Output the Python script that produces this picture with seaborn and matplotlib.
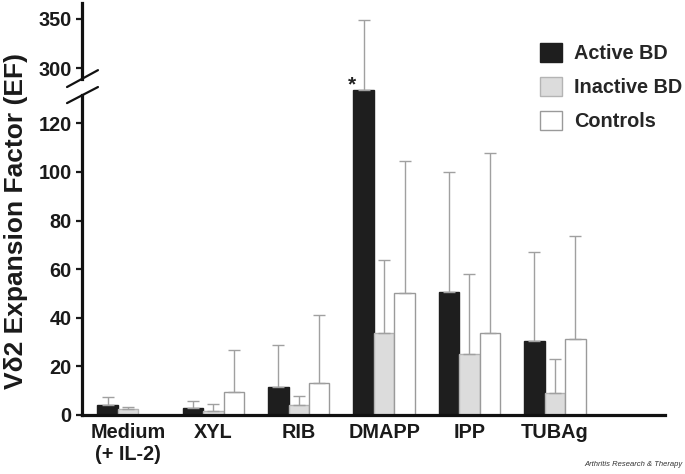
import matplotlib
matplotlib.use("Agg")
import matplotlib.pyplot as plt
import numpy as np
import pandas as pd
import seaborn as sns


CATEGORIES = ["Medium\n(+ IL-2)", "XYL", "RIB", "DMAPP", "IPP", "TUBAg"]
GROUPS = ["Active BD", "Inactive BD", "Controls"]

ACTIVE_MEAN = [4.1, 2.8, 11.4, 278.0, 50.7, 30.5]
ACTIVE_SD = [3.1, 3.0, 17.4, 71.0, 49.2, 36.7]
INACTIVE_MEAN = [2.5, 1.8, 4.1, 33.9, 25.1, 8.9]
INACTIVE_SD = [0.9, 2.9, 3.8, 29.9, 32.9, 14.3]
CONTROL_MEAN = [np.nan, 9.3, 13.0, 50.1, 33.9, 31.2]
CONTROL_SD = [np.nan, 17.4, 28.2, 54.4, 73.8, 42.6]

Y_TICKS = [0, 20, 40, 60, 80, 100, 120, 300, 350]

FILL = {"Active BD": "#1e1e1e", "Inactive BD": "#dcdcdc", "Controls": "#ffffff"}
EDGE = {"Active BD": "#1e1e1e", "Inactive BD": "#b4b4b4", "Controls": "#9a9a9a"}
ERR = "#a0a0a0"
FONT = "Liberation Sans"

# broken y axis: linear up to LO, squeezed gap, compressed upper part
LO, HI = 130.0, 270.0
T300, K = 142.7, 0.406
T_HI = T300 + (HI - 300) * K


def fwd(v):
    v = np.asarray(v, dtype=float)
    return np.where(v <= LO, v,
                    np.where(v < HI, LO + (v - LO) * (T_HI - LO) / (HI - LO),
                             T300 + (v - 300) * K))


def inv(t):
    t = np.asarray(t, dtype=float)
    return np.where(t <= LO, t,
                    np.where(t < T_HI, LO + (t - LO) * (HI - LO) / (T_HI - LO),
                             300 + (t - T300) / K))


def build_frame() -> pd.DataFrame:
    parts = []
    for group, mean, sd in [
        ("Active BD", ACTIVE_MEAN, ACTIVE_SD),
        ("Inactive BD", INACTIVE_MEAN, INACTIVE_SD),
        ("Controls", CONTROL_MEAN, CONTROL_SD),
    ]:
        parts.append(pd.DataFrame({"stim": CATEGORIES, "group": group, "ef": mean, "sd": sd}))
    return pd.concat(parts, ignore_index=True).dropna()


def main() -> None:
    sns.set_theme(style="ticks")
    plt.rcParams["font.family"] = [FONT, "DejaVu Sans"]
    plt.rcParams["font.weight"] = "bold"

    df = build_frame()

    fig = plt.figure(figsize=(6.85, 4.74), dpi=100)
    ax = fig.add_axes([0.1197, 0.1245, 0.8511, 0.8692])
    ax.set_yscale("function", functions=(fwd, inv))

    sns.barplot(
        data=df, x="stim", y="ef", hue="group",
        order=CATEGORIES, hue_order=GROUPS, palette=FILL,
        width=0.72, errorbar=None, legend=False, ax=ax,
    )

    for group, container in zip(GROUPS, ax.containers):
        sub = df[df["group"] == group]
        xs, ys = [], []
        for patch in container.patches:
            patch.set_edgecolor(EDGE[group])
            patch.set_linewidth(1.0)
            xs.append(patch.get_x() + patch.get_width() / 2)
            ys.append(patch.get_height())
        sd = sub["sd"].to_numpy()
        ax.errorbar(xs, ys, yerr=[np.zeros(len(sd)), sd], fmt="none",
                    ecolor=ERR, elinewidth=1.0, capsize=4.5, capthick=1.0, zorder=1)

    # significance star on DMAPP active bar
    star_bar = ax.containers[0].patches[CATEGORIES.index("DMAPP")]
    ax.annotate("*", xy=(star_bar.get_x(), star_bar.get_height()),
                xytext=(-1, -3), textcoords="offset points",
                ha="center", va="bottom", fontsize=15, fontweight="bold", color="#222222")

    ax.set_ylim(0, 366)
    ax.set_xlim(-0.539, 6.29)
    ax.set_yticks(Y_TICKS)
    ax.set_yticklabels([str(t) for t in Y_TICKS])
    ax.set_xlabel("")
    ax.set_ylabel("V\u03b42 Expansion Factor (EF)", fontsize=19, fontweight="bold", color="#1a1a1a")
    ax.yaxis.set_label_coords(-0.092, 0.47)

    ax.tick_params(axis="y", length=4.5, width=1.6, pad=3, labelsize=14.3, colors="#1a1a1a")
    ax.tick_params(axis="x", length=0, pad=6, labelsize=14.3, colors="#1a1a1a")
    for lab in ax.get_xticklabels() + ax.get_yticklabels():
        lab.set_fontweight("bold")

    sns.despine(ax=ax, left=True)
    ax.spines["bottom"].set_linewidth(2.3)
    ax.spines["bottom"].set_color("#111111")

    # left spine with a gap and break marks
    for y0, y1 in [(0.0, 0.776), (0.816, 1.0)]:
        ax.plot([0, 0], [y0, y1], transform=ax.transAxes, color="#111111",
                lw=2.3, clip_on=False, solid_capstyle="projecting")
    for (x0, y0), (x1, y1) in [((-0.0257, 0.796), (0.0274, 0.837)),
                               ((-0.0257, 0.757), (0.0274, 0.796))]:
        ax.plot([x0, x1], [y0, y1], transform=ax.transAxes, color="#111111",
                lw=1.6, clip_on=False)

    ax.legend(
        handles=ax.containers, labels=GROUPS,
        loc="upper left", bbox_to_anchor=(540 / 685, 1 - 43 / 474),
        bbox_transform=fig.transFigure, frameon=False,
        borderpad=0, borderaxespad=0, handlelength=1.1, handleheight=1.1,
        handletextpad=0.6, labelspacing=0.68,
        prop={"family": FONT, "weight": "bold", "size": 14.3},
    )

    fig.text(0.997, 0.012, "Arthritis Research & Therapy", ha="right", va="bottom",
             fontsize=5.5, style="italic", fontweight="normal", color="#333333")

    fig.savefig("out.png", dpi=100, facecolor="white")
    plt.close(fig)


if __name__ == "__main__":
    main()
